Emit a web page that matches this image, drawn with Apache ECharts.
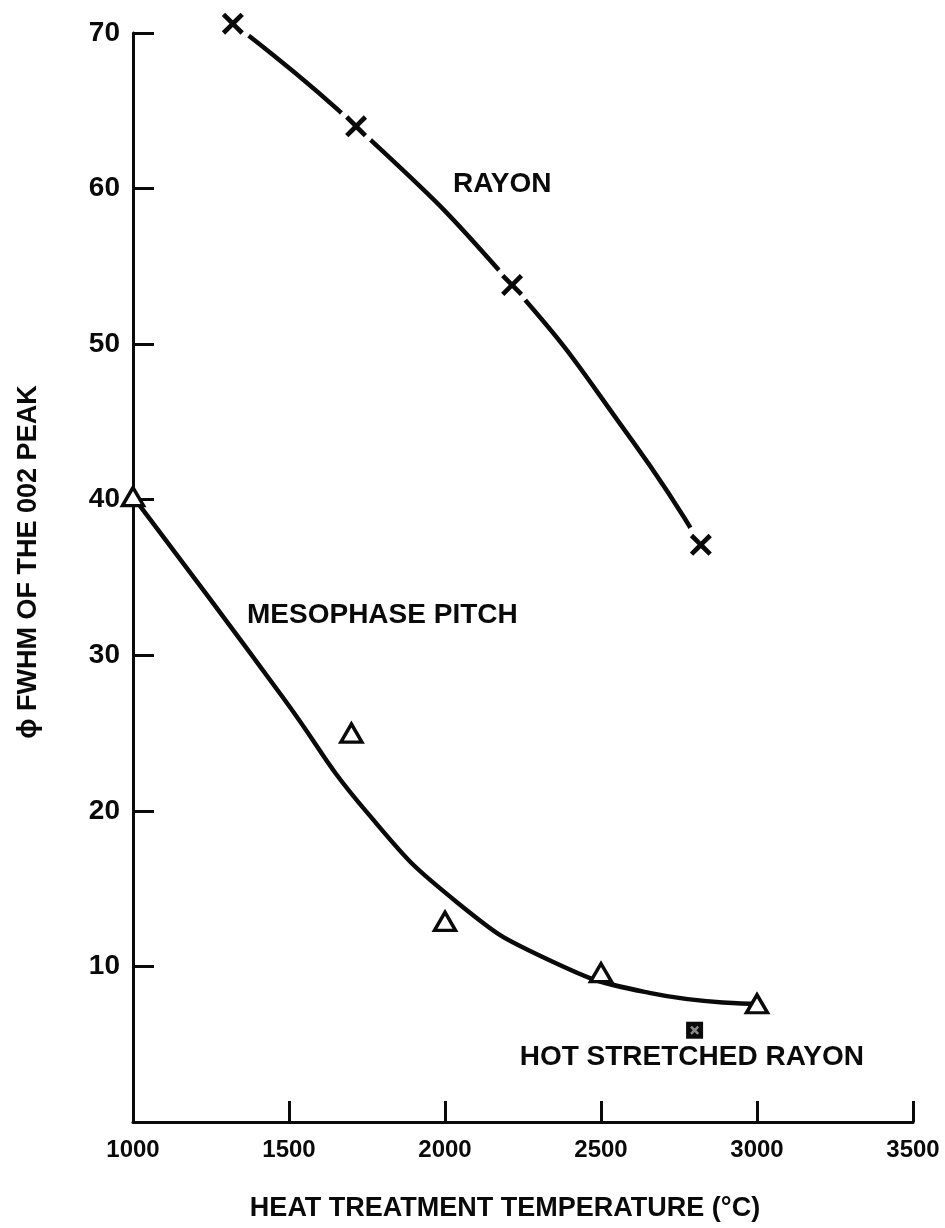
<!DOCTYPE html>
<html>
<head>
<meta charset="utf-8">
<script src="https://cdn.jsdelivr.net/npm/echarts@6/dist/echarts.min.js"></script>
<style>
  html, body { margin: 0; padding: 0; background: #fff; }
  #chart { width: 945px; height: 1228px; }
</style>
</head>
<body>
<div id="chart"></div>
<script>
// FWHM of the 002 peak versus heat treatment temperature for three fibre types

// Rayon-based fibre: measured points and the fitted curve through them
const rayonPoints = [[1320, 70.6], [1715, 64.0], [2215, 53.8], [2820, 37.1]];
const rayonCurve = [[1320, 70.6], [1715, 64.0], [2215, 53.8], [2600, 43.8], [2820, 37.1]];

// Mesophase pitch fibre: measured points and fitted curve
const pitchPoints = [[1000, 40.2], [1700, 25.0], [2000, 12.9], [2500, 9.6], [3000, 7.6]];
const pitchCurve = [[1000, 40.2], [1240, 33.8], [1480, 27.3], [1750, 19.9], [2040, 14.1],
                    [2335, 10.4], [2655, 8.3], [3000, 7.6]];

// Hot stretched rayon: single point
const hotStretchedPoints = [[2800, 5.9]];

// Axis scales
const xMin = 1000, xMax = 3500, xStep = 500;
const yMin = 0, yMax = 70, yStep = 10;

// Text
const xTitle = 'HEAT TREATMENT TEMPERATURE (°C)';
const yTitle = 'ϕ FWHM OF THE 002 PEAK';
const rayonLabel = 'RAYON';
const pitchLabel = 'MESOPHASE PITCH';
const hotStretchedLabel = 'HOT STRETCHED RAYON';

const INK = '#0a0a0a';
const FONT = '"Liberation Sans", Arial, Helvetica, sans-serif';

// Cross marker drawn as a filled outline
const crossPath = 'path://M0,15 L15,0 L50,35 L85,0 L100,15 L65,50 L100,85 L85,100 L50,65 L15,100 L0,85 L35,50 Z';
// Small x used inside the hot stretched rayon square
const smallX = 'path://M0,20 L20,0 L50,30 L80,0 L100,20 L70,50 L100,80 L80,100 L50,70 L20,100 L0,80 L30,50 Z';

const chart = echarts.init(document.getElementById('chart'), null, { renderer: 'canvas' });

chart.setOption({
  backgroundColor: '#ffffff',
  animation: false,
  grid: { left: 133, right: 32, top: 33, bottom: 106, containLabel: false },
  xAxis: {
    type: 'value',
    min: xMin, max: xMax, interval: xStep,
    splitLine: { show: false },
    axisLine: { show: true, lineStyle: { color: INK, width: 3 } },
    axisTick: { show: true, inside: true, length: 21, lineStyle: { color: INK, width: 3 } },
    axisLabel: {
      show: true, margin: 16, color: INK,
      fontFamily: FONT, fontWeight: 'bold', fontSize: 24,
      formatter: (v) => String(v)
    }
  },
  yAxis: {
    type: 'value',
    min: yMin, max: yMax, interval: yStep,
    splitLine: { show: false },
    axisLine: { show: true, lineStyle: { color: INK, width: 3 } },
    axisTick: { show: true, inside: true, length: 21, lineStyle: { color: INK, width: 3 } },
    axisLabel: {
      show: true, margin: 13, color: INK, showMinLabel: false,
      fontFamily: FONT, fontWeight: 'bold', fontSize: 28,
      formatter: (v) => String(v)
    }
  },
  series: [
    {
      name: 'rayon curve', type: 'line', data: rayonCurve,
      smooth: 0.5, showSymbol: false, symbol: 'none', z: 2,
      lineStyle: { color: INK, width: 4.5 }
    },
    {
      name: 'pitch curve', type: 'line', data: pitchCurve,
      smooth: 0.5, showSymbol: false, symbol: 'none', z: 2,
      lineStyle: { color: INK, width: 4.5 }
    },
    {
      // white discs break the rayon curve around each cross
      name: 'rayon gap', type: 'scatter', data: rayonPoints,
      symbol: 'circle', symbolSize: 40, z: 3, clip: false, silent: true,
      itemStyle: { color: '#ffffff', borderWidth: 0, opacity: 1 }
    },
    {
      name: 'rayon', type: 'scatter', data: rayonPoints,
      symbol: crossPath, symbolSize: 22, z: 4, clip: false,
      itemStyle: { color: INK, opacity: 1 }
    },
    {
      name: 'mesophase pitch', type: 'scatter', data: pitchPoints,
      symbol: 'triangle', symbolSize: [21, 18], z: 4, clip: false,
      itemStyle: { color: '#ffffff', borderColor: INK, borderWidth: 3.4, opacity: 1 }
    },
    {
      name: 'hot stretched rayon', type: 'scatter', data: hotStretchedPoints,
      symbol: 'rect', symbolSize: 17, z: 4, clip: false,
      itemStyle: { color: INK, opacity: 1 }
    },
    {
      name: 'hot stretched rayon detail', type: 'scatter', data: hotStretchedPoints,
      symbol: smallX, symbolSize: 9, z: 5, clip: false, silent: true,
      itemStyle: { color: '#8a8a8a', opacity: 1 }
    }
  ],
  graphic: [
    {
      type: 'text', left: 453, top: 170, z: 10,
      style: { text: rayonLabel, fill: INK, font: 'bold 28px ' + FONT }
    },
    {
      type: 'text', left: 247, top: 601, z: 10,
      style: { text: pitchLabel, fill: INK, font: 'bold 28px ' + FONT }
    },
    {
      type: 'text', right: 945 - 864, top: 1043, z: 10,
      style: { text: hotStretchedLabel, fill: INK, font: 'bold 28px ' + FONT }
    },
    {
      type: 'text', x: 505, y: 1209, z: 10,
      style: {
        text: xTitle, fill: INK, font: 'bold 27px ' + FONT,
        textAlign: 'center', textVerticalAlign: 'middle'
      }
    },
    {
      type: 'text', x: 29, y: 562, rotation: Math.PI / 2, z: 10,
      style: {
        text: yTitle, fill: INK, font: 'bold 27px ' + FONT,
        textAlign: 'center', textVerticalAlign: 'middle'
      }
    }
  ]
});
</script>
</body>
</html>
